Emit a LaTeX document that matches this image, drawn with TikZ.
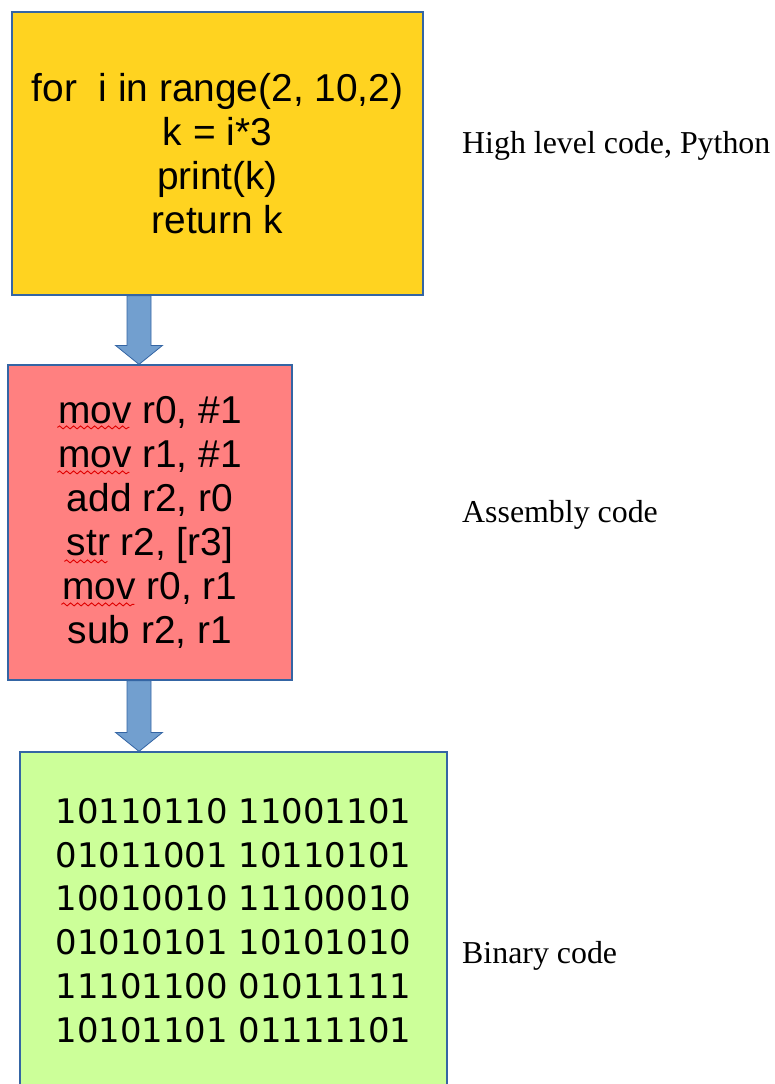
\documentclass[tikz,border=0pt]{standalone}
\usepackage{fontspec}
\setmainfont{Liberation Serif}
\newfontfamily\boxfont{Liberation Sans}
\newfontfamily\bitfont{DejaVu Sans}
\usetikzlibrary{calc, decorations.pathmorphing}
\definecolor{CodeYellow}{HTML}{FFD320}
\definecolor{AsmRed}{HTML}{FF8080}
\definecolor{BinGreen}{HTML}{CCFF99}
\definecolor{EdgeBlue}{HTML}{3465A4}
\definecolor{ArrowBlue}{HTML}{729FCF}
\definecolor{SpellRed}{HTML}{E00000}

\begin{document}
\begin{tikzpicture}[x=1bp, y=-1bp,
    box/.style={draw=EdgeBlue, line width=1.2bp, align=center, inner sep=0pt, font=\boxfont\fontsize{39}{44}\selectfont},
    note/.style={anchor=base west, inner sep=0pt, font=\fontsize{32}{38}\selectfont},
    flow/.style={draw=EdgeBlue, fill=ArrowBlue, line width=0.8bp},
    spell/.style={draw=SpellRed, line width=0.9bp, decorate, decoration={snake, amplitude=1.5bp, segment length=7bp}}]
  \clip (0,0) rectangle (775,1084);

  % source, assembly and machine code boxes
  \node[box, fill=CodeYellow, minimum width=411bp, minimum height=283bp] (code) at (217.5,153.5) {for\ \ i in range(2, 10,2)\\ k = i*3\\ print(k)\\ return k};
  \node[box, fill=AsmRed, minimum width=284bp, minimum height=315bp] (asm) at (150,522.5) {mov r0, \#1\\ mov r1, \#1\\ add r2, r0\\ str r2, [r3]\\ mov r0, r1\\ sub r2, r1};
  \node[box, fill=BinGreen, minimum width=427bp, minimum height=337bp, font=\bitfont\fontsize{34}{44}\selectfont] (bin) at (233.5,920.5) {10110110 11001101\\ 01011001 10110101\\ 10010010 11100010\\ 01010101 10101010\\ 11101100 01011111\\ 10101101 01111101};

  % block arrows between the boxes
  \coordinate (shaft) at (139,0);
  \foreach \from/\to in {code/asm, asm/bin}
    \draw[flow] ($(\from.south -| shaft)+(-12,0)$) -- ($(\to.north -| shaft)+(-12,-19)$)
      -- ($(\to.north -| shaft)+(-23.5,-19)$) -- (\to.north -| shaft)
      -- ($(\to.north -| shaft)+(23.5,-19)$) -- ($(\to.north -| shaft)+(12,-19)$)
      -- ($(\from.south -| shaft)+(12,0)$) -- cycle;

  % spell-check marks under mov / str
  \foreach \dx/\dy/\len in {50/63/72, 50/108/72, 57/197/43, 54/240/73}
    \draw[spell] ($(asm.north west)+(\dx,\dy)$) -- ++(\len,0);

  % labels on the right
  \node[note] (hll) at (462,153) {High level code, Python};
  \node[note] (asml) at (462,522) {Assembly code};
  \node[note] (binl) at (462,963) {Binary code};
\end{tikzpicture}
\end{document}
